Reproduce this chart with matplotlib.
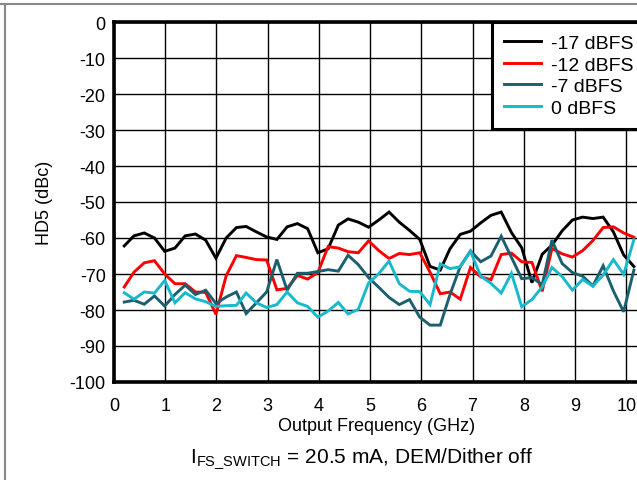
import matplotlib
matplotlib.use("Agg")
import matplotlib.pyplot as plt
from matplotlib.lines import Line2D

plt.rcParams['font.family'] = ['Liberation Sans', 'DejaVu Sans']
plt.rcParams['axes.unicode_minus'] = False
plt.rcParams['mathtext.fontset'] = 'custom'
plt.rcParams['mathtext.rm'] = 'Liberation Sans'

# output frequency sweep (GHz)
freq = [0.20, 0.39, 0.59, 0.79, 0.99, 1.19, 1.39, 1.59, 1.79, 1.99,
        2.19, 2.39, 2.58, 2.78, 2.98, 3.18, 3.38, 3.58, 3.78, 3.98,
        4.18, 4.38, 4.57, 4.77, 4.97, 5.17, 5.37, 5.57, 5.77, 5.97,
        6.17, 6.37, 6.56, 6.76, 6.96, 7.16, 7.36, 7.56, 7.76, 7.96,
        8.16, 8.36, 8.55, 8.75, 8.95, 9.15, 9.35, 9.55, 9.75, 9.95,
        10.15]

hd5_m17 = [-62.2, -59.4, -58.6, -60.0, -63.7, -62.8, -59.4, -58.9, -60.6, -65.6,
           -60.0, -57.1, -56.8, -58.3, -59.7, -60.4, -56.9, -56.0, -57.4, -64.1,
           -63.0, -56.4, -54.7, -55.6, -57.0, -55.0, -52.8, -55.6, -57.9, -60.4,
           -67.9, -68.9, -63.0, -59.0, -58.1, -55.8, -53.7, -52.8, -58.5, -62.7,
           -72.4, -64.5, -62.0, -58.0, -55.0, -54.2, -54.6, -54.2, -58.3, -64.7,
           -67.9]
hd5_m12 = [-73.6, -69.5, -66.9, -66.3, -70.0, -72.7, -72.7, -75.0, -75.1, -81.2,
           -70.5, -64.9, -65.4, -66.0, -66.1, -74.4, -74.0, -70.4, -71.4, -69.6,
           -62.4, -62.8, -63.8, -64.1, -60.8, -63.5, -65.7, -64.3, -64.6, -64.1,
           -69.5, -75.5, -75.0, -77.0, -68.2, -70.8, -71.6, -64.6, -64.2, -66.6,
           -66.8, -74.8, -62.9, -64.4, -65.3, -63.5, -60.7, -57.1, -56.9, -58.6,
           -59.8]
hd5_m7 = [-77.8, -77.3, -78.4, -76.1, -78.9, -75.7, -73.1, -75.7, -74.5, -78.2,
          -76.4, -75.0, -81.0, -78.0, -75.0, -66.0, -74.5, -69.8, -69.8, -69.3,
          -68.8, -69.2, -64.8, -67.4, -71.0, -73.7, -76.5, -78.5, -77.1, -82.0,
          -84.2, -84.2, -75.7, -67.9, -63.6, -66.6, -65.0, -59.5, -65.4, -71.3,
          -71.0, -73.0, -60.6, -67.1, -69.6, -70.6, -73.3, -67.7, -74.7, -80.5,
          -68.9]
hd5_0 = [-75.2, -77.0, -75.0, -75.3, -71.8, -78.0, -75.2, -76.9, -77.7, -79.0,
         -78.8, -78.7, -75.3, -78.0, -79.3, -78.5, -75.0, -78.0, -79.0, -82.0,
         -80.3, -77.9, -81.1, -79.8, -72.5, -69.9, -66.4, -72.7, -74.8, -74.9,
         -78.5, -67.2, -68.5, -68.0, -63.7, -70.6, -72.6, -75.3, -69.8, -79.1,
         -77.1, -73.6, -68.2, -70.7, -74.5, -71.5, -73.4, -70.3, -66.0, -70.1,
         -60.5]

labels = ["-17 dBFS", "-12 dBFS", "-7 dBFS", "0 dBFS"]
colors = ["#000000", "#ff0000", "#1c5f6e", "#19b9cc"]
xticks = list(range(0, 11))
yticks = list(range(-100, 1, 10))

fig = plt.figure(figsize=(6.37, 4.81), dpi=100)
W, H = 637.0, 481.0
ax = fig.add_axes([114 / W, 1 - 383 / H, 525 / W, 360 / H])

for series, lab, col in zip([hd5_m17, hd5_m12, hd5_m7, hd5_0], labels, colors):
    ax.plot(freq, series, color=col, lw=2.1, label=lab, solid_joinstyle='miter')

ax.set_xlim(0, 10.25)
ax.set_ylim(-100, 0)
ax.set_xticks(xticks)
ax.set_yticks(yticks)
ax.grid(True, color='black', lw=1.0)
ax.set_axisbelow(True)
ax.tick_params(length=0, labelsize=13, colors='black')
ax.tick_params(axis='x', pad=11)
ax.tick_params(axis='y', pad=6)
for side in ['left', 'top', 'bottom']:
    ax.spines[side].set_linewidth(2.6)
ax.spines['right'].set_visible(False)

ax.set_xlabel("Output Frequency (GHz)", fontsize=13, labelpad=2)
ax.set_ylabel("HD5 (dBc)", fontsize=13, labelpad=12)

leg = ax.legend(loc='upper left', bbox_to_anchor=(491.5 / W, 1 - 23 / H),
                bbox_transform=fig.transFigure, fontsize=14, frameon=True,
                fancybox=False, borderpad=0.65, labelspacing=0.2,
                handlelength=1.9, handletextpad=0.5, borderaxespad=0)
leg.get_frame().set_edgecolor('black')
leg.get_frame().set_linewidth(2.2)
leg.get_frame().set_alpha(1)

fig.text(361.5 / W, 1 - 459 / H, r"I$_{\mathrm{FS\_SWITCH}}$ = 20.5 mA, DEM/Dither off",
         ha='center', va='center', fontsize=15)

# outer border of the figure
fig.add_artist(Line2D([0, 1], [1 - 5 / H, 1 - 5 / H], transform=fig.transFigure,
                      color='#888888', lw=1.5))
fig.add_artist(Line2D([4.5 / W, 4.5 / W], [0, 1 - 5 / H], transform=fig.transFigure,
                      color='#888888', lw=1.5))

fig.savefig("out.png", dpi=100)
